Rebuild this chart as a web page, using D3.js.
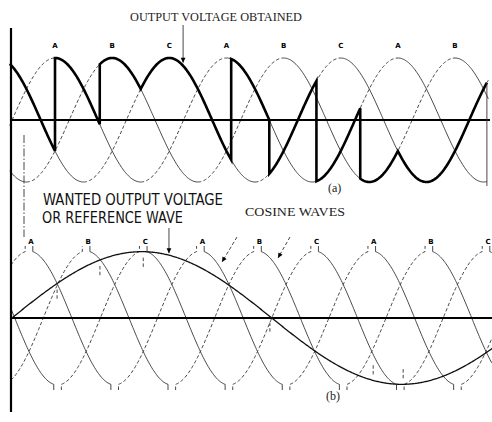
<!DOCTYPE html>
<html>
<head>
<meta charset="utf-8">
<script src="https://cdn.jsdelivr.net/npm/d3@7"></script>
<style>
  body { margin: 0; background: #fff; }
  svg { display: block; }
  .thin { fill: none; stroke: #333; stroke-width: 0.9; }
  .rise { stroke-dasharray: 3.5, 2.2; }
  .dashdot { stroke-dasharray: 8, 2, 1.5, 2; }
  .axisline { stroke: #000; stroke-width: 2.2; }
  .outwave { fill: none; stroke: #000; stroke-width: 2.6; stroke-linejoin: miter; }
  .refwave { fill: none; stroke: #111; stroke-width: 1.3; }
  .peaklabel { font-family: "DejaVu Sans", sans-serif; font-size: 7px; font-weight: bold; text-anchor: middle; }
  .serif { font-family: "Liberation Serif", "DejaVu Serif", serif; fill: #222; }
  .letter { font-family: "Liberation Sans Narrow", "DejaVu Sans Condensed", sans-serif; fill: #111; }
</style>
</head>
<body>
<div id="fig"></div>
<script>
(function figure() {

  // supply phases, shift in degrees
  var phases = ["A", "B", "C"];
  var phaseShift = { A: 0, B: 120, C: 240 };

  // (a) sine waves: peaks (deg) and their labels
  var topPeakDeg = [90, 210, 330, 450, 570, 690, 810, 930];
  var topPeakLabels = ["A", "B", "C", "A", "B", "C", "A", "B"];
  var topDomain = [-5, 1000];

  // output voltage obtained: [from deg, to deg, phase]
  var outSegments = [
    [-5, 90, "C"], [90, 184, "A"], [184, 270, "B"], [270, 460, "C"],
    [460, 540, "A"], [540, 639, "C"], [639, 731, "A"], [731, 810, "B"],
    [810, 997, "C"]
  ];

  // (b) cosine waves: peaks (deg) and labels
  var botPeakDeg = [0, 120, 240, 360, 480, 600, 720, 840, 960];
  var botPeakLabels = ["A", "B", "C", "A", "B", "C", "A", "B", "C"];
  var botDomain = [-38, 972];

  // wanted output voltage (reference wave)
  var refStartDeg = -36, refPeriodDeg = 1092, refAmp = 0.99;
  // firing marks where the reference meets a cosine wave
  var firingDeg = [59, 149, 240, 506, 723, 786];

  var W = 492, H = 422;

  var svg = d3.select("#fig").append("svg")
    .attr("width", W)
    .attr("height", H);

  var xa = d3.scaleLinear().domain([90, 930]).range([55, 455]);
  var ya = d3.scaleLinear().domain([-1, 1]).range([182, 58]);
  var xb = d3.scaleLinear().domain([0, 960]).range([29, 486]);
  var yb = d3.scaleLinear().domain([-1, 1]).range([385, 251]);

  var rad = Math.PI / 180;
  function sinWave(p) { return function(t) { return Math.sin((t - phaseShift[p]) * rad); }; }
  function cosWave(p) { return function(t) { return Math.cos((t - phaseShift[p]) * rad); }; }
  function refWave(t) { return refAmp * Math.sin((t - refStartDeg) / refPeriodDeg * 360 * rad); }

  function sample(f, a, b) {
    var pts = [], n = Math.max(2, Math.ceil(Math.abs(b - a) / 2));
    for (var i = 0; i <= n; i++) {
      var t = a + (b - a) * i / n;
      pts.push([t, f(t)]);
    }
    return pts;
  }

  // small filled head at (x2,y2), pointing along the line
  function arrowHead(g, x1, y1, x2, y2) {
    var a = Math.atan2(y2 - y1, x2 - x1), l = 5, w = 2.4;
    var bx = x2 - l * Math.cos(a), by = y2 - l * Math.sin(a);
    g.append("path").attr("fill", "#000")
      .attr("d", "M" + x2 + "," + y2 +
        "L" + (bx + w * Math.sin(a)) + "," + (by - w * Math.cos(a)) +
        "L" + (bx - w * Math.sin(a)) + "," + (by + w * Math.cos(a)) + "Z");
  }

  var line = d3.line();

  // ---------- panel (a) ----------
  var ga = svg.append("g");

  phases.forEach(function(p) {
    var f = sinWave(p), first = 90 + phaseShift[p];
    for (var pk = first - 720; pk < topDomain[1] + 180; pk += 360) {
      // rising half dashed, falling half solid
      [[pk - 180, pk, true], [pk, pk + 180, false]].forEach(function(h) {
        var a = Math.max(h[0], topDomain[0]), b = Math.min(h[1], topDomain[1]);
        if (b <= a) return;
        ga.append("path")
          .attr("class", "thin" + (h[2] ? " rise" : ""))
          .attr("d", line(sample(f, a, b).map(function(d) { return [xa(d[0]), ya(d[1])]; })));
      });
    }
  });

  ga.append("line")
    .attr("class", "axisline")
    .attr("x1", 10).attr("x2", 490)
    .attr("y1", ya(0)).attr("y2", ya(0));

  var outPts = [];
  outSegments.forEach(function(s) {
    outPts = outPts.concat(sample(sinWave(s[2]), s[0], s[1]));
  });
  ga.append("path")
    .attr("class", "outwave")
    .attr("d", line(outPts.map(function(d) { return [xa(d[0]), ya(d[1])]; })));

  var last = outPts[outPts.length - 1];
  ga.append("line")
    .attr("class", "thin")
    .attr("x1", xa(last[0])).attr("x2", xa(last[0]))
    .attr("y1", ya(last[1])).attr("y2", ya(-1) + 4);

  ga.selectAll(".toplabel")
    .data(topPeakDeg)
    .enter().append("text")
    .attr("class", "peaklabel")
    .attr("x", function(d) { return xa(d); })
    .attr("y", 48)
    .text(function(d, i) { return topPeakLabels[i]; });

  // arrow from title to the output wave
  var tArrow = 359, tY = ya(sinWave("C")(tArrow)) - 3;
  ga.append("line").attr("class", "thin")
    .attr("x1", xa(tArrow)).attr("x2", xa(tArrow))
    .attr("y1", 25).attr("y2", tY);
  arrowHead(ga, xa(tArrow), 25, xa(tArrow), tY);

  // ---------- panel (b) ----------
  var gb = svg.append("g");
  var hook = 8, stub = 5;

  phases.forEach(function(p) {
    var f = cosWave(p), first = phaseShift[p];
    for (var pk = first - 720; pk < botDomain[1] + 360; pk += 360) {
      [[pk - 180, pk, true], [pk, pk + 180, false]].forEach(function(h) {
        var a0 = h[0] + hook, b0 = h[1] - hook;
        var a = Math.max(a0, botDomain[0]), b = Math.min(b0, botDomain[1]);
        if (b <= a) return;
        var pts = sample(f, a, b).map(function(d) { return [xb(d[0]), yb(d[1])]; });
        var startY = h[2] ? yb(-1) + stub : yb(1) - stub;
        var endY = h[2] ? yb(1) - stub : yb(-1) + stub;
        if (a === a0) pts.unshift([xb(a), startY]);
        if (b === b0) pts.push([xb(b), endY]);
        gb.append("path")
          .attr("class", "thin" + (h[2] ? " rise" : ""))
          .attr("d", line(pts));
      });
    }
  });

  gb.append("line")
    .attr("class", "axisline")
    .attr("x1", 12).attr("x2", 492)
    .attr("y1", yb(0)).attr("y2", yb(0));

  gb.append("path")
    .attr("class", "refwave")
    .attr("d", line(sample(refWave, refStartDeg, botDomain[1] + 2).map(function(d) { return [xb(d[0]), yb(d[1])]; })));

  gb.selectAll(".fire")
    .data(firingDeg)
    .enter().append("line")
    .attr("class", "thin rise")
    .attr("x1", function(d) { return xb(d); })
    .attr("x2", function(d) { return xb(d); })
    .attr("y1", function(d) { var v = refWave(d); return yb(v) + (v > 0 ? 6 : -6); })
    .attr("y2", function(d) { var v = refWave(d); return yb(v) + (v > 0 ? 17 : -17); });

  gb.selectAll(".botlabel")
    .data(botPeakDeg)
    .enter().append("text")
    .attr("class", "peaklabel")
    .attr("x", function(d) { return xb(d) + 2; })
    .attr("y", 244)
    .text(function(d, i) { return botPeakLabels[i]; });

  // arrow to the reference wave
  var rArrow = 294, rY = yb(refWave(rArrow)) - 2;
  gb.append("line").attr("class", "thin")
    .attr("x1", xb(rArrow)).attr("x2", xb(rArrow))
    .attr("y1", 228).attr("y2", rY);
  arrowHead(gb, xb(rArrow), 228, xb(rArrow), rY);

  // leader from "wanted output voltage"
  svg.append("line").attr("class", "thin dashdot")
    .attr("x1", 24).attr("x2", 24)
    .attr("y1", 135).attr("y2", 237);

  // leaders from "cosine waves"
  [[237, 237, 222, 262], [290, 237, 278, 258]].forEach(function(l) {
    svg.append("line").attr("class", "thin rise")
      .attr("x1", l[0]).attr("y1", l[1]).attr("x2", l[2]).attr("y2", l[3]);
    arrowHead(svg, l[0], l[1], l[2], l[3]);
  });

  // left frame line
  svg.append("line")
    .attr("class", "axisline")
    .attr("x1", 11).attr("x2", 11)
    .attr("y1", 28).attr("y2", 412);

  // ---------- texts ----------
  svg.append("text").attr("class", "serif")
    .attr("x", 130).attr("y", 21)
    .attr("font-size", 12)
    .attr("textLength", 172).attr("lengthAdjust", "spacingAndGlyphs")
    .text("OUTPUT VOLTAGE OBTAINED");

  svg.append("text").attr("class", "serif")
    .attr("x", 328).attr("y", 192)
    .attr("font-size", 12)
    .text("(a)");

  svg.append("text").attr("class", "letter")
    .attr("x", 43).attr("y", 205)
    .attr("font-size", 15)
    .attr("textLength", 180).attr("lengthAdjust", "spacingAndGlyphs")
    .text("WANTED OUTPUT VOLTAGE");

  svg.append("text").attr("class", "letter")
    .attr("x", 42).attr("y", 223)
    .attr("font-size", 15)
    .attr("textLength", 141).attr("lengthAdjust", "spacingAndGlyphs")
    .text("OR REFERENCE WAVE");

  svg.append("text").attr("class", "serif")
    .attr("x", 245).attr("y", 216)
    .attr("font-size", 13)
    .attr("textLength", 100).attr("lengthAdjust", "spacingAndGlyphs")
    .text("COSINE WAVES");

  svg.append("text").attr("class", "serif")
    .attr("x", 326).attr("y", 400)
    .attr("font-size", 12)
    .text("(b)");

})();
</script>
</body>
</html>
